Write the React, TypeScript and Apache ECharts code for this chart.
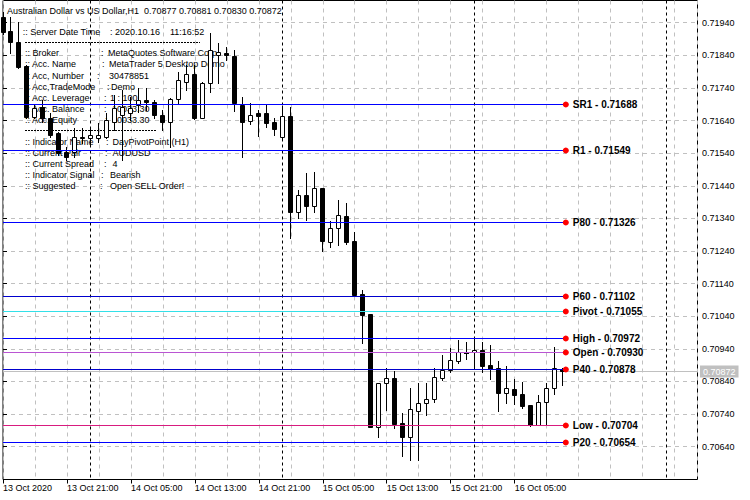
import React, { useEffect, useRef } from "react";
import * as echarts from "echarts";

const titleText = "Australian Dollar vs US Dollar,H1  0.70877 0.70881 0.70830 0.70872";

// hourly bars starting 13 Oct 2020 13:00
const firstBar = { day: 13, hour: 13 };
const opens = [
  0.71957, 0.71915, 0.7188, 0.71807, 0.71652, 0.71682, 0.71647, 0.71601, 0.71545, 0.71545,
  0.7159, 0.71588, 0.71586, 0.7159, 0.71636, 0.71657, 0.71662, 0.71688, 0.71703, 0.71698,
  0.71657, 0.71636, 0.71705, 0.71759, 0.71783, 0.71647, 0.71756, 0.71841, 0.71848, 0.71838,
  0.71688, 0.7164, 0.71662, 0.71664, 0.71636, 0.7159, 0.71654, 0.71361, 0.71412, 0.71379,
  0.71434, 0.71269, 0.7131, 0.71348, 0.71271, 0.71108, 0.71047, 0.70701, 0.70834, 0.7085,
  0.70712, 0.70671, 0.7075, 0.70775, 0.70785, 0.70852, 0.70875, 0.70904, 0.70927, 0.7093,
  0.70937, 0.70891, 0.7088, 0.70806, 0.70817, 0.70802, 0.70768, 0.70707, 0.70778, 0.70819,
  0.70877,
];
const highs = [
  0.71973, 0.71958, 0.71943, 0.7181, 0.71688, 0.71703, 0.71663, 0.71606, 0.7156, 0.71617,
  0.71617, 0.71617, 0.71632, 0.71662, 0.71718, 0.71734, 0.71713, 0.71739, 0.71739, 0.71703,
  0.71672, 0.71709, 0.7179, 0.7181, 0.7181, 0.71759, 0.71907, 0.71877, 0.71866, 0.71856,
  0.71713, 0.71693, 0.71672, 0.71688, 0.71647, 0.71685, 0.71683, 0.71427, 0.71478, 0.71483,
  0.71434, 0.71333, 0.71396, 0.71386, 0.71299, 0.7112, 0.71047, 0.70834, 0.7088, 0.70873,
  0.70742, 0.70819, 0.70836, 0.70834, 0.7088, 0.70921, 0.70942, 0.70967, 0.7096, 0.70972,
  0.7096, 0.70952, 0.70903, 0.70888, 0.70848, 0.70839, 0.70768, 0.70799, 0.70834, 0.70947,
  0.70881,
];
const lows = [
  0.71905, 0.71846, 0.718, 0.71648, 0.71648, 0.71636, 0.7159, 0.71534, 0.71519, 0.71529,
  0.71571, 0.71565, 0.71575, 0.71586, 0.71611, 0.71519, 0.71642, 0.71667, 0.71672, 0.71647,
  0.71611, 0.7156, 0.71693, 0.71734, 0.71645, 0.71647, 0.71728, 0.71754, 0.71826, 0.71669,
  0.71529, 0.71629, 0.71593, 0.71621, 0.71596, 0.71586, 0.71279, 0.7134, 0.71335, 0.71361,
  0.7124, 0.71253, 0.71258, 0.71261, 0.71105, 0.70957, 0.707, 0.70669, 0.70753, 0.70696,
  0.70612, 0.70599, 0.70599, 0.70737, 0.70778, 0.70845, 0.7087, 0.70896, 0.70909, 0.7088,
  0.7087, 0.70847, 0.7075, 0.70773, 0.70771, 0.70758, 0.70704, 0.70705, 0.7071, 0.70802,
  0.7083,
];
const closes = [
  0.71912, 0.7188, 0.71805, 0.71652, 0.71678, 0.71647, 0.71596, 0.7154, 0.71529, 0.7159,
  0.71588, 0.71596, 0.71596, 0.71642, 0.71678, 0.71682, 0.71678, 0.71703, 0.71698, 0.71657,
  0.71636, 0.71705, 0.71764, 0.71783, 0.71647, 0.71754, 0.71856, 0.7185, 0.71841, 0.71693,
  0.71636, 0.71657, 0.71655, 0.71633, 0.71613, 0.71654, 0.71361, 0.71412, 0.71378, 0.71434,
  0.71272, 0.7131, 0.7135, 0.71267, 0.71105, 0.71045, 0.70701, 0.70834, 0.7085, 0.7071,
  0.70671, 0.70755, 0.70773, 0.70785, 0.70855, 0.70875, 0.70906, 0.70931, 0.70928, 0.70937,
  0.70887, 0.70877, 0.70804, 0.70819, 0.70799, 0.70765, 0.70707, 0.70778, 0.70819, 0.7088,
  0.70872,
];

const xTickLabels = [
  "13 Oct 2020", "13 Oct 21:00", "14 Oct 05:00", "14 Oct 13:00", "14 Oct 21:00",
  "15 Oct 05:00", "15 Oct 13:00", "15 Oct 21:00", "16 Oct 05:00",
];
const xTickStep = 8;
const separatorDays = [14, 15, 16, 17];

const yTickValues = [
  0.7194, 0.7184, 0.7174, 0.7164, 0.7154, 0.7144, 0.7134, 0.7124, 0.7114, 0.7104,
  0.7094, 0.7084, 0.7074, 0.7064,
];

const levelNames = ["SR1", "R1", "P80", "P60", "Pivot", "High", "Open", "P40", "Low", "P20"];
const levelValues = [0.71688, 0.71549, 0.71326, 0.71102, 0.71055, 0.70972, 0.7093, 0.70878, 0.70704, 0.70654];
const levelColors = ["#0000ff", "#0000ff", "#0000ff", "#0000cd", "#33e0e8", "#0000ff", "#ba55d3", "#0000cd", "#d81b7f", "#0000ff"];

const serverRow = [":: Server Date Time", ":", "2020.10.16", "11:16:52"];
const accountLabels = [":: Broker", ":: Acc. Name", ":: Acc, Number", ":: Acc,TradeMode", ":: Acc. Leverage", ":: Acc. Balance", ":: Acc. Equity"];
const accountValues = ["MetaQuotes Software Corp.", "MetaTrader 5 Desktop Demo", "30478851", "Demo", "1 : 100", "10033.30", "10033.30"];
const indicatorLabels = [":: Indicator Name", ":: Current Pair", ":: Current Spread", ":: Indicator Signal", ":: Suggested"];
const indicatorValues = ["DayPivotPoint (H1)", "AUDUSD", "4", "Bearish", "Open SELL Order!"];

// layout
const FONT = "Liberation Sans, Arial, sans-serif";
const accountColonX = [101, 102, 97, 107, 104, 104, 105];
const accountValueX = [108, 109, 109, 111, 110, 112, 112];
const indicatorColonX = [106, 105, 104, 101, 100];
const indicatorValueX = [112.5, 112.5, 112.5, 110, 110];

const yMin = 0.705394;
const yMax = 0.720081;
const xMax = 695 / 8;

const barIndex = (day: number, hour: number) => (day - firstBar.day) * 24 + hour - firstBar.hour;

export default function App() {
  const ref = useRef<HTMLDivElement>(null);
  useEffect(() => {
    document.body.style.margin = "0";
    if (!ref.current) return;
    const chart = echarts.init(ref.current, undefined, { renderer: "svg" });
    const lastIndex = closes.length - 1;
    const labelX = lastIndex + 0.4;
    const candleData = opens.map((o, i) => [i, o, highs[i], lows[i], closes[i]]);
    const levelData = levelValues.map((v, k) => [labelX, v, k]);
    const sepData = separatorDays.map((d) => [barIndex(d, 0), yMin]);
    const tickIdx = xTickLabels.map((_, k) => k * xTickStep);

    const txt = (text: string, x: number, y: number, extra: any = {}) => ({
      type: "text",
      x,
      y,
      z: 1,
      silent: true,
      style: { text, fill: "#000", fontSize: 9, fontFamily: FONT, verticalAlign: "middle", align: "left", ...extra },
    });

    const graphics: any[] = [];
    graphics.push(txt(titleText, 7, 10.5));
    graphics.push(txt(serverRow[0], 22.7, 32.3));
    graphics.push(txt(serverRow[1], 110, 32.3));
    graphics.push(txt(serverRow[2], 115, 32.3));
    graphics.push(txt(serverRow[3], 170, 32.3));
    graphics.push({
      type: "line", z: 1, silent: true,
      shape: { x1: 25, y1: 42.5, x2: 200, y2: 42.5 },
      style: { stroke: "#000", lineWidth: 1, lineDash: [2, 1] },
    });
    accountLabels.forEach((l, k) => {
      const y = 53.3 + k * 11.1;
      graphics.push(txt(l, 25, y));
      graphics.push(txt(":", accountColonX[k], y));
      graphics.push(txt(accountValues[k], accountValueX[k], y));
    });
    graphics.push({
      type: "line", z: 1, silent: true,
      shape: { x1: 25, y1: 130.5, x2: 156, y2: 130.5 },
      style: { stroke: "#000", lineWidth: 1, lineDash: [2, 1] },
    });
    indicatorLabels.forEach((l, k) => {
      const y = 142 + k * 11;
      graphics.push(txt(l, 25, y));
      graphics.push(txt(":", indicatorColonX[k], y));
      graphics.push(txt(indicatorValues[k], indicatorValueX[k], y));
    });

    const option: any = {
      animation: false,
      backgroundColor: "#ffffff",
      grid: {
        left: 2.5, top: 0.5, right: 52.5, bottom: 20.5,
        show: true, borderColor: "#000", borderWidth: 1, backgroundColor: "transparent",
      },
      xAxis: [
        {
          type: "value", min: 0, max: xMax, interval: 4, gridIndex: 0,
          axisLine: { show: false }, axisTick: { show: false }, axisLabel: { show: false },
          splitLine: { show: true, lineStyle: { color: "#c0c0c0", width: 1, type: [4, 4] } },
        },
        {
          type: "value", min: 0, max: xMax, gridIndex: 0, position: "bottom",
          axisLine: { show: false },
          axisTick: { show: true, length: 4, customValues: tickIdx, lineStyle: { color: "#000" } },
          axisLabel: {
            show: true, customValues: tickIdx, align: "left", margin: 4,
            color: "#000", fontSize: 9, fontFamily: FONT,
            formatter: (v: number) => xTickLabels[Math.round(v / xTickStep)] ?? "",
          },
          splitLine: { show: false },
        },
      ],
      yAxis: {
        type: "value", position: "right", min: yMin, max: yMax,
        axisLine: { show: false },
        axisTick: { show: true, length: 4, customValues: yTickValues, lineStyle: { color: "#000" } },
        axisLabel: {
          show: true, customValues: yTickValues, margin: 4.5, color: "#000", fontSize: 9, fontFamily: FONT,
          formatter: (v: number) => v.toFixed(5),
        },
        splitLine: { show: true, lineStyle: { color: "#c0c0c0", width: 1, type: [4, 4] } },
      },
      graphic: { elements: graphics },
      series: [
        {
          type: "custom", name: "separators", z: 1, silent: true, xAxisIndex: 0,
          data: sepData, encode: { x: 0, y: 1 },
          renderItem: (params: any, api: any) => {
            const cs = params.coordSys;
            const x = Math.floor(api.coord([api.value(0), yMin])[0]) + 0.5;
            return {
              type: "line",
              shape: { x1: x, y1: cs.y, x2: x, y2: cs.y + cs.height },
              style: { stroke: "#000", lineWidth: 1, lineDash: [3, 3] },
            };
          },
        },
        {
          type: "custom", name: "bid", z: 1, silent: true, xAxisIndex: 0,
          data: [[lastIndex, closes[lastIndex]]], encode: { x: 0, y: 1 },
          renderItem: (params: any, api: any) => {
            const cs = params.coordSys;
            const y = Math.floor(api.coord([api.value(0), api.value(1)])[1]) + 0.5;
            return {
              type: "group",
              children: [
                {
                  type: "line",
                  shape: { x1: cs.x, y1: y, x2: cs.x + cs.width, y2: y },
                  style: { stroke: "#c0c0c0", lineWidth: 1 },
                },
                {
                  type: "text", x: cs.x + cs.width + 2.5, y,
                  style: {
                    text: closes[lastIndex].toFixed(5), fill: "#fff", backgroundColor: "#c0c0c0",
                    padding: [2, 3, 1, 3], fontSize: 9, fontFamily: FONT, verticalAlign: "middle", align: "left",
                  },
                },
              ],
            };
          },
        },
        {
          type: "custom", name: "AUDUSD", z: 2, silent: true, xAxisIndex: 0,
          data: candleData, encode: { x: 0, y: [1, 2, 3, 4] },
          renderItem: (params: any, api: any) => {
            const i = api.value(0), o = api.value(1), h = api.value(2), l = api.value(3), c = api.value(4);
            const pO = api.coord([i, o]), pC = api.coord([i, c]), pH = api.coord([i, h]), pL = api.coord([i, l]);
            const x = Math.floor(pO[0]) + 0.5;
            const yTop = Math.round(Math.min(pO[1], pC[1])) + 0.5;
            const yBot = Math.round(Math.max(pO[1], pC[1])) + 0.5;
            const children: any[] = [
              {
                type: "line",
                shape: { x1: x, y1: Math.round(pH[1]), x2: x, y2: Math.round(pL[1]) + 1 },
                style: { stroke: "#000", lineWidth: 1 },
              },
            ];
            if (yBot - yTop >= 1) {
              children.push({
                type: "rect",
                shape: { x: x - 2, y: yTop, width: 4, height: yBot - yTop },
                style: { fill: c > o ? "#fff" : "#000", stroke: "#000", lineWidth: 1 },
              });
            } else {
              children.push({
                type: "line",
                shape: { x1: x - 2.5, y1: yTop, x2: x + 2.5, y2: yTop },
                style: { stroke: "#000", lineWidth: 1 },
              });
            }
            return { type: "group", children };
          },
        },
        {
          type: "custom", name: "levels", z: 3, silent: true, xAxisIndex: 0,
          data: levelData, encode: { x: 0, y: 1 },
          renderItem: (params: any, api: any) => {
            const k = api.value(2);
            const v = api.value(1);
            const end = api.coord([api.value(0), v]);
            const start = api.coord([0, v]);
            const y = Math.floor(end[1]) + 0.5;
            return {
              type: "group",
              children: [
                {
                  type: "line",
                  shape: { x1: start[0], y1: y, x2: end[0], y2: y },
                  style: { stroke: levelColors[k], lineWidth: 1 },
                },
                {
                  type: "circle",
                  shape: { cx: end[0], cy: y, r: 3 },
                  style: { fill: "#ff0000" },
                },
                {
                  type: "text", x: end[0] + 7, y,
                  style: {
                    text: `${levelNames[k]} - ${v.toFixed(5)}`, fill: "#000", fontSize: 10, fontWeight: "bold",
                    fontFamily: FONT, verticalAlign: "middle", align: "left",
                  },
                },
              ],
            };
          },
        },
      ],
    };
    chart.setOption(option);
    return () => chart.dispose();
  }, []);
  return <div ref={ref} style={{ width: 750, height: 500 }} />;
}
